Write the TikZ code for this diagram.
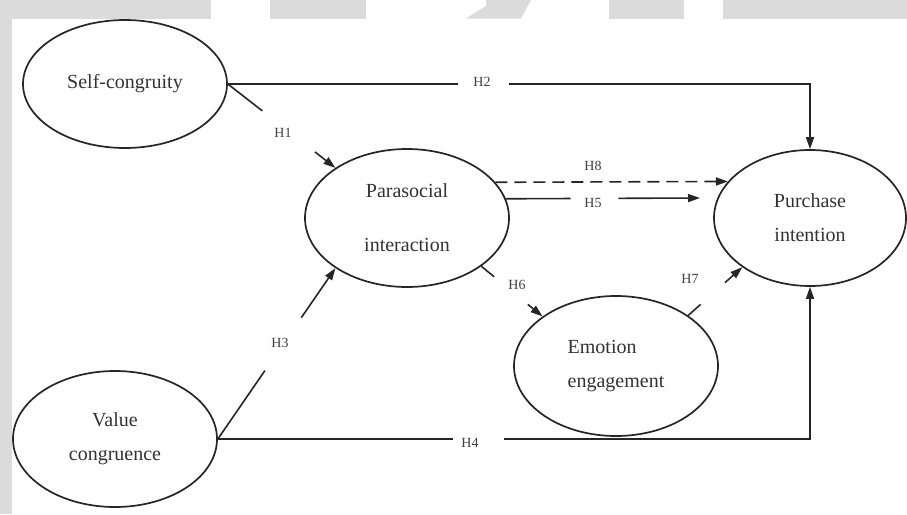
\documentclass[tikz,border=0pt]{standalone}
\usepackage{fontspec}
\setmainfont{Liberation Serif}
\usetikzlibrary{shapes.geometric,arrows.meta,calc}
\begin{document}
\begin{tikzpicture}[x=1pt,y=-1pt,
  latent/.style={ellipse, draw=black!85, line width=1.7pt, inner sep=0pt,
    font=\fontsize{20}{34}\selectfont, text=black!80, align=center},
  hyp/.style={font=\fontsize{14}{14}\selectfont, text=black!75, inner sep=0pt},
  link/.style={line width=1.6pt, draw=black!85},
  arr/.style={link, -{Triangle[length=12pt,width=8pt]}},
  wm/.style={fill=black!14, draw=none}]
\useasboundingbox (0,0) rectangle (907,514);
\fill[white] (0,0) rectangle (907,514);
% watermark bands
\fill[wm] (0,0) rectangle (211,18.5);
\fill[wm] (270,0) rectangle (366,18.5);
\fill[wm] (466,18.5) -- (486,6) -- (486,0) -- (531,0) -- (521,18.5) -- cycle;
\fill[wm] (609,0) rectangle (684,18.5);
\fill[wm] (723,0) rectangle (907,18.5);
\fill[wm] (0,18.5) rectangle (11.5,514);

% constructs
\node[latent, minimum width=204pt, minimum height=128pt] (sc) at (125,84) {Self-congruity};
\node[latent, minimum width=204pt, minimum height=138pt] (pi) at (407,218) {Parasocial\\[20pt]interaction};
\node[latent, minimum width=192pt, minimum height=136pt] (pu) at (810,218) {Purchase\\intention};
\node[latent, minimum width=204pt, minimum height=140pt, align=left] (ee) at (616,366) {Emotion\\engagement};
\node[latent, minimum width=204pt, minimum height=136pt] (vc) at (115,439) {Value\\congruence};

% H1
\draw[link] (sc.east) -- ($(sc.east)!0.32!(pi.145)$);
\draw[arr] ($(sc.east)!0.81!(pi.145)$) -- (pi.145);
\node[hyp] (h1) at (283,133) {H1};
% H2
\draw[link] (sc.east) -- ++(230,0);
\draw[arr] ($(sc.east)+(281,0)$) -| (pu.north);
\node[hyp] (h2) at (482,82) {H2};
% H3
\draw[link] (vc.east) -- ($(vc.east)!0.40!(pi.215)$);
\draw[arr] ($(vc.east)!0.71!(pi.215)$) -- (pi.215);
\node[hyp] (h3) at (280,343) {H3};
% H4
\draw[link] (vc.east) -- ++(235,0);
\draw[arr] ($(vc.east)+(286,0)$) -| (pu.south);
\node[hyp] (h4) at (470,443) {H4};
% H5
\coordinate (h5end) at (700,198);
\draw[link] (pi.11.6) -- ($(pi.11.6)!0.334!(h5end)$);
\draw[arr] ($(pi.11.6)!0.58!(h5end)$) -- (h5end);
\node[hyp] (h5) at (593,203) {H5};
% H6
\draw[link] (pi.-33) -- ($(pi.-33)!0.21!(ee.146)$);
\draw[arr] ($(pi.-33)!0.76!(ee.146)$) -- (ee.146);
\node[hyp] (h6) at (517,285) {H6};
% H7
\draw[link] (ee.35) -- ($(ee.35)!0.23!(pu.216)$);
\draw[arr] ($(ee.35)!0.68!(pu.216)$) -- (pu.216);
\node[hyp] (h7) at (690,279) {H7};
% H8
\draw[arr, dash pattern=on 12pt off 7pt] (pi.22) -- (pu.156);
\node[hyp] (h8) at (593,166) {H8};
\end{tikzpicture}
\end{document}
